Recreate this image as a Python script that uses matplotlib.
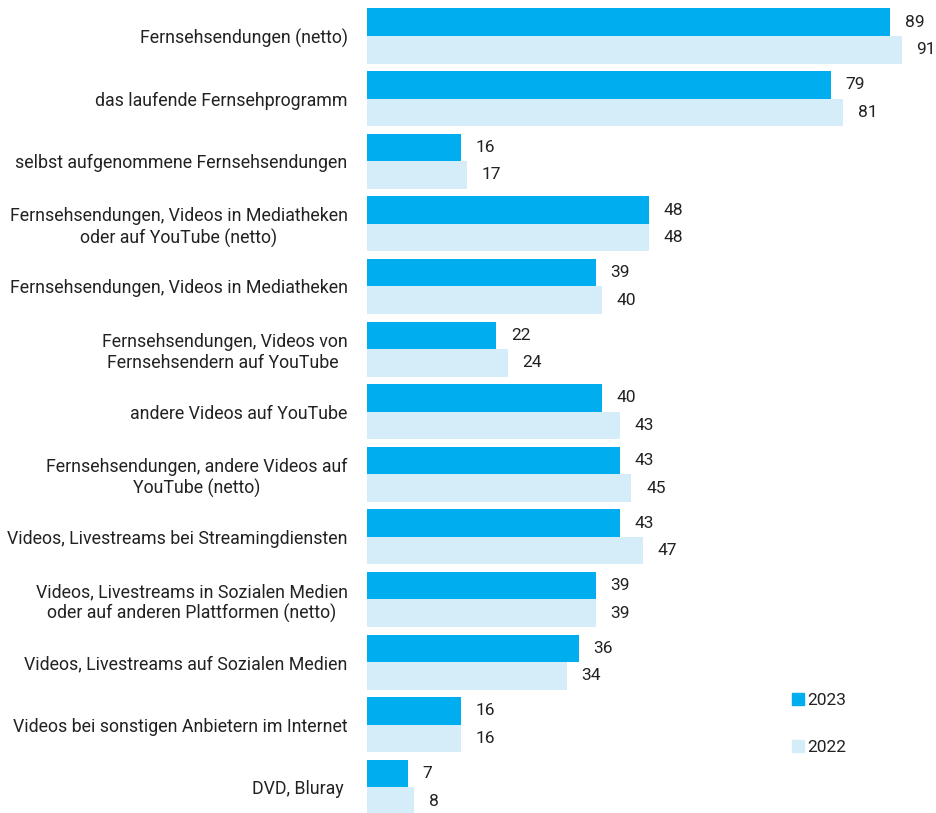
import matplotlib
matplotlib.use("Agg")
import matplotlib.pyplot as plt
import numpy as np
from matplotlib.patches import Patch

plt.rcParams['font.family'] = ['Liberation Sans Narrow', 'Roboto', 'DejaVu Sans']

categories = [
    "Fernsehsendungen (netto)",
    "das laufende Fernsehprogramm",
    "selbst aufgenommene Fernsehsendungen",
    "Fernsehsendungen, Videos in Mediatheken\noder auf YouTube (netto)",
    "Fernsehsendungen, Videos in Mediatheken",
    "Fernsehsendungen, Videos von\nFernsehsendern auf YouTube ",
    "andere Videos auf YouTube",
    "Fernsehsendungen, andere Videos auf\nYouTube (netto)",
    "Videos, Livestreams bei Streamingdiensten",
    "Videos, Livestreams in Sozialen Medien\noder auf anderen Plattformen (netto)",
    "Videos, Livestreams auf Sozialen Medien",
    "Videos bei sonstigen Anbietern im Internet",
    "DVD, Bluray ",
]
values_2023 = [89, 79, 16, 48, 39, 22, 40, 43, 43, 39, 36, 16, 7]
values_2022 = [91, 81, 17, 48, 40, 24, 43, 45, 47, 39, 34, 16, 8]

c2023 = "#00AEEF"
c2022 = "#D5ECF9"
text_color = "#222222"

fig = plt.figure(figsize=(9.36, 8.13), dpi=100)
ax = fig.add_axes([367 / 936, 0, 1 - 367 / 936, 1])

y = np.arange(len(categories))
h = 0.44
b1 = ax.barh(y - h / 2, values_2023, height=h, color=c2023, label="2023")
b2 = ax.barh(y + h / 2, values_2022, height=h, color=c2022, label="2022")

for bars in (b1, b2):
    ax.bar_label(bars, padding=10.5, fontsize=12.5, color=text_color, clip_on=False)

ax.set_xlim(0, 569 / 5.876)
ax.set_ylim(12.41, -0.575)

ax.set_yticks(y)
ax.set_yticklabels(categories, fontsize=12.8, color=text_color, multialignment='center')
ax.tick_params(axis='y', length=0, pad=14)
ax.set_xticks([])
for s in ax.spines.values():
    s.set_visible(False)

handles = [Patch(color=c2023, label="2023"), Patch(color=c2022, label="2022")]
leg = ax.legend(handles=handles, loc='upper left', bbox_to_anchor=(425 / 569, 1 - 693 / 813),
                frameon=False, fontsize=12.5, handlelength=0.7, handleheight=0.7,
                handletextpad=0.15, labelspacing=1.85, borderaxespad=0, borderpad=0)
for t in leg.get_texts():
    t.set_color(text_color)

fig.savefig("out.png", dpi=100, facecolor="white")
